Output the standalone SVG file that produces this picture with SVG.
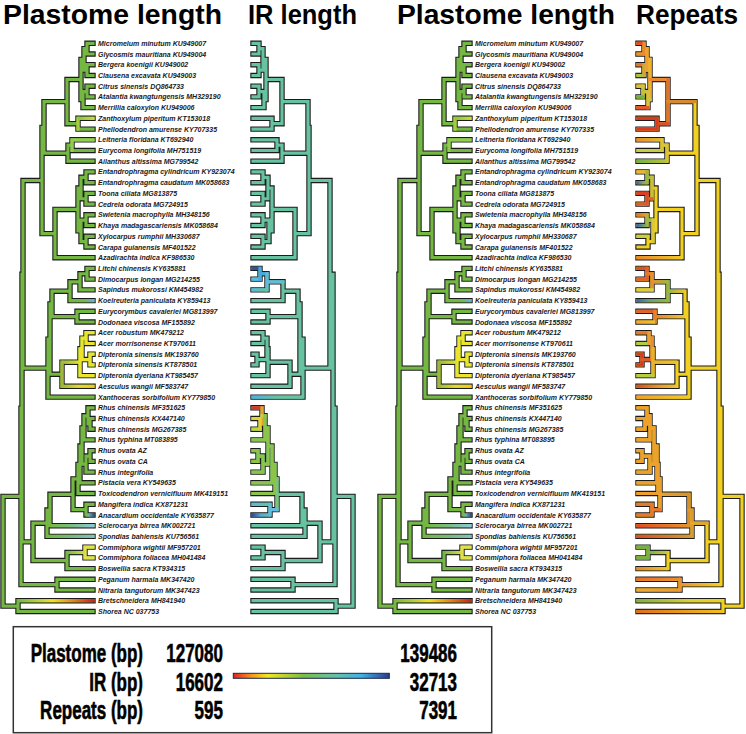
<svg xmlns="http://www.w3.org/2000/svg" xmlns:xlink="http://www.w3.org/1999/xlink" width="746" height="734" viewBox="0 0 746 734">
<style>
.ol{fill:none;stroke:#1c1c1c;stroke-width:5.4;stroke-linecap:square}
.fl{fill:none;stroke-width:3.2;stroke-linecap:square}
.ov{fill:none;stroke-width:3.2;stroke-linecap:square}
.lbl{font-family:"Liberation Sans",Arial,sans-serif;font-weight:bold;font-style:italic;font-size:7px;fill:#1a1a1a}
.ttl{font-family:"Liberation Sans",Arial,sans-serif;font-weight:bold;font-size:27px;fill:#000}
.lg{font-family:"Liberation Sans",Arial,sans-serif;font-weight:bold;font-size:25px;fill:#000;stroke:#000;stroke-width:0.6;text-anchor:end}
</style>
<defs>
<path id="tL" d="M3 496.4V606.1M21 408.1V584.65M18 600.7V611.5M22 274.3V541.9M57 579.3V590M23 180.5V368.1M33 523.2V560.55M42 127.4V233.6M44 101.6V153.2M67 79.5V123.7M81 59.4V99.6M84 48.65V70.1M87 43.3V54M87 64.7V75.5M83 91.55V107.6M87 86.2V96.9M78 118.3V129.1M68 145.15V161.2M72 139.8V150.5M55 209.45V257.7M78 188V230.9M81 177.3V198.75M86 171.9V182.7M86 193.4V204.1M81 220.15V241.65M86 214.8V225.5M86 236.3V247M48 339.1V397.1M50 303.9V374.25M52 291.2V316.65M70 281.8V300.6M80 273.75V289.9M87 268.4V279.1M77 311.3V322M62 362.2V386.3M80 348.8V375.6M82 338.1V359.55M86 332.7V343.5M90 354.2V364.9M47 510V536.4M50 494.3V525.7M73 478.95V509.65M78 464.4V493.5M80 446V482.8M82 427.9V464.1M84 415.8V439.9M88 407.8V423.85M90 418.5V429.2M86 456.05V472.1M90 450.7V461.4M86 504.3V515M67 552.5V568.6M85 547.1V557.9M3 496.4H21M3 606.1H18M21 408.1H22M21 584.65H57M22 274.3H23M22 541.9H33M23 180.5H42M23 368.1H48M42 127.4H44M42 233.6H55M44 101.6H67M44 153.2H68M67 79.5H81M67 123.7H78M81 59.4H84M81 99.6H83M84 48.65H87M84 70.1H87M87 43.3H93M87 54H93M87 64.7H93M87 75.5H93M83 91.55H87M87 86.2H93M87 96.9H93M83 107.6H93M78 118.3H93M78 129.1H93M68 145.15H72M72 139.8H93M72 150.5H93M68 161.2H93M55 209.45H78M55 257.7H93M78 188H81M78 230.9H81M81 177.3H86M81 198.75H86M81 220.15H86M81 241.65H86M86 171.9H93M86 182.7H93M86 193.4H93M86 204.1H93M86 214.8H93M86 225.5H93M86 236.3H93M86 247H93M48 339.1H50M48 397.1H93M50 303.9H52M50 374.25H62M52 291.2H70M52 316.65H77M70 281.8H80M70 300.6H93M80 273.75H87M80 289.9H93M87 268.4H93M87 279.1H93M77 311.3H93M77 322H93M62 362.2H80M62 386.3H93M80 348.8H82M80 375.6H93M82 338.1H86M82 359.55H90M86 332.7H93M86 343.5H93M90 354.2H93M90 364.9H93M33 523.2H47M33 560.55H67M47 510H50M47 536.4H93M50 494.3H73M50 525.7H93M73 478.95H78M73 509.65H86M78 464.4H80M78 493.5H93M80 446H82M80 482.8H93M82 427.9H84M82 464.1H86M84 415.8H88M84 439.9H93M88 407.8H93M88 423.85H90M90 418.5H93M90 429.2H93M86 456.05H90M86 472.1H93M90 450.7H93M90 461.4H93M86 504.3H93M86 515H93M67 552.5H85M67 568.6H93M85 547.1H93M85 557.9H93M57 579.3H93M57 590H93M18 600.7H93M18 611.5H93"/>
<path id="tI" d="M353 496.4V606.1M335 408.1V584.65M336 600.7V611.5M333 274.3V541.9M293 579.3V590M330 180.5V368.1M320 523.2V560.55M309 127.4V233.6M308 101.6V153.2M282 79.5V123.7M266 59.4V99.6M263 48.65V70.1M259 43.3V54M259 64.7V75.5M264 91.55V107.6M259 86.2V96.9M272 118.3V129.1M282 145.15V161.2M277 139.8V150.5M295 209.45V257.7M272 188V230.9M268 177.3V198.75M263 171.9V182.7M263 193.4V204.1M269 220.15V241.65M263 214.8V225.5M263 236.3V247M303 339.1V397.1M300 303.9V374.25M298 291.2V316.65M283 281.8V300.6M267 273.75V289.9M260 268.4V279.1M268 311.3V322M290 362.2V386.3M268 348.8V375.6M267 338.1V359.55M263 332.7V343.5M257 354.2V364.9M305 510V536.4M302 494.3V525.7M277 478.95V509.65M275 464.4V493.5M272 446V482.8M268 427.9V464.1M265 415.8V439.9M262 407.8V423.85M260 418.5V429.2M263 456.05V472.1M258 450.7V461.4M270 504.3V515M283 552.5V568.6M263 547.1V557.9M353 496.4H335M353 606.1H336M335 408.1H333M335 584.65H293M333 274.3H330M333 541.9H320M330 180.5H309M330 368.1H303M309 127.4H308M309 233.6H295M308 101.6H282M308 153.2H282M282 79.5H266M282 123.7H272M266 59.4H263M266 99.6H264M263 48.65H259M263 70.1H259M259 43.3H253M259 54H253M259 64.7H253M259 75.5H253M264 91.55H259M259 86.2H253M259 96.9H253M264 107.6H253M272 118.3H253M272 129.1H253M282 145.15H277M277 139.8H253M277 150.5H253M282 161.2H253M295 209.45H272M295 257.7H253M272 188H268M272 230.9H269M268 177.3H263M268 198.75H263M269 220.15H263M269 241.65H263M263 171.9H253M263 182.7H253M263 193.4H253M263 204.1H253M263 214.8H253M263 225.5H253M263 236.3H253M263 247H253M303 339.1H300M303 397.1H253M300 303.9H298M300 374.25H290M298 291.2H283M298 316.65H268M283 281.8H267M283 300.6H253M267 273.75H260M267 289.9H253M260 268.4H253M260 279.1H253M268 311.3H253M268 322H253M290 362.2H268M290 386.3H253M268 348.8H267M268 375.6H253M267 338.1H263M267 359.55H257M263 332.7H253M263 343.5H253M257 354.2H253M257 364.9H253M320 523.2H305M320 560.55H283M305 510H302M305 536.4H253M302 494.3H277M302 525.7H253M277 478.95H275M277 509.65H270M275 464.4H272M275 493.5H253M272 446H268M272 482.8H253M268 427.9H265M268 464.1H263M265 415.8H262M265 439.9H253M262 407.8H253M262 423.85H260M260 418.5H253M260 429.2H253M263 456.05H258M263 472.1H253M258 450.7H253M258 461.4H253M270 504.3H253M270 515H253M283 552.5H263M283 568.6H253M263 547.1H253M263 557.9H253M293 579.3H253M293 590H253M336 600.7H253M336 611.5H253"/>
<path id="tR" d="M742 496.4V606.1M721 408.1V584.65M723 600.7V611.5M719 274.3V541.9M680 579.3V590M718 180.5V368.1M707 523.2V560.55M697 127.4V233.6M695 101.6V153.2M668 79.5V123.7M650 59.4V99.6M647 48.65V70.1M644 43.3V54M644 64.7V75.5M648 91.55V107.6M643 86.2V96.9M657 118.3V129.1M667 145.15V161.2M662 139.8V150.5M682 209.45V257.7M656 188V230.9M652 177.3V198.75M647 171.9V182.7M647 193.4V204.1M653 220.15V241.65M647 214.8V225.5M648 236.3V247M689 339.1V397.1M687 303.9V374.25M685 291.2V316.65M668 281.8V300.6M652 273.75V289.9M647 268.4V279.1M655 311.3V322M677 362.2V386.3M653 348.8V375.6M652 338.1V359.55M649 332.7V343.5M642 354.2V364.9M692 510V536.4M689 494.3V525.7M660 478.95V509.65M658 464.4V493.5M657 446V482.8M654 427.9V464.1M650 415.8V439.9M647 407.8V423.85M645 418.5V429.2M650 456.05V472.1M642 450.7V461.4M652 504.3V515M668 552.5V568.6M648 547.1V557.9M742 496.4H721M742 606.1H723M721 408.1H719M721 584.65H680M719 274.3H718M719 541.9H707M718 180.5H697M718 368.1H689M697 127.4H695M697 233.6H682M695 101.6H668M695 153.2H667M668 79.5H650M668 123.7H657M650 59.4H647M650 99.6H648M647 48.65H644M647 70.1H644M644 43.3H638M644 54H638M644 64.7H638M644 75.5H638M648 91.55H643M643 86.2H638M643 96.9H638M648 107.6H638M657 118.3H638M657 129.1H638M667 145.15H662M662 139.8H638M662 150.5H638M667 161.2H638M682 209.45H656M682 257.7H638M656 188H652M656 230.9H653M652 177.3H647M652 198.75H647M653 220.15H647M653 241.65H648M647 171.9H638M647 182.7H638M647 193.4H638M647 204.1H638M647 214.8H638M647 225.5H638M648 236.3H638M648 247H638M689 339.1H687M689 397.1H638M687 303.9H685M687 374.25H677M685 291.2H668M685 316.65H655M668 281.8H652M668 300.6H638M652 273.75H647M652 289.9H638M647 268.4H638M647 279.1H638M655 311.3H638M655 322H638M677 362.2H653M677 386.3H638M653 348.8H652M653 375.6H638M652 338.1H649M652 359.55H642M649 332.7H638M649 343.5H638M642 354.2H638M642 364.9H638M707 523.2H692M707 560.55H668M692 510H689M692 536.4H638M689 494.3H660M689 525.7H638M660 478.95H658M660 509.65H652M658 464.4H657M658 493.5H638M657 446H654M657 482.8H638M654 427.9H650M654 464.1H650M650 415.8H647M650 439.9H638M647 407.8H638M647 423.85H645M645 418.5H638M645 429.2H638M650 456.05H642M650 472.1H638M642 450.7H638M642 461.4H638M652 504.3H638M652 515H638M668 552.5H648M668 568.6H638M648 547.1H638M648 557.9H638M680 579.3H638M680 590H638M723 600.7H638M723 611.5H638"/>
<linearGradient id="gL_za"><stop offset="0" stop-color="#8cc444"/><stop offset="1" stop-color="#d2da3a"/></linearGradient>
<linearGradient id="gL_koel"><stop offset="0" stop-color="#74b843"/><stop offset=".55" stop-color="#74b843"/><stop offset="1" stop-color="#68ace8"/></linearGradient>
<linearGradient id="gL_acerH"><stop offset="0" stop-color="#a2b63c"/><stop offset="1" stop-color="#e8e02c"/></linearGradient>
<linearGradient id="gL_aes"><stop offset="0" stop-color="#a2b63c"/><stop offset=".5" stop-color="#e6d82a"/><stop offset="1" stop-color="#f4c814"/></linearGradient>
<linearGradient id="gL_anac"><stop offset="0" stop-color="#74b843"/><stop offset=".35" stop-color="#6cb0b8"/><stop offset="1" stop-color="#26388f"/></linearGradient>
<linearGradient id="gL_scl"><stop offset="0" stop-color="#74b843"/><stop offset=".5" stop-color="#7cbc88"/><stop offset="1" stop-color="#8ccbe0"/></linearGradient>
<linearGradient id="gL_spo"><stop offset="0" stop-color="#74b843"/><stop offset=".5" stop-color="#78b880"/><stop offset="1" stop-color="#80c0cc"/></linearGradient>
<linearGradient id="gL_bre"><stop offset="0" stop-color="#74b843"/><stop offset=".3" stop-color="#c4d43a"/><stop offset=".45" stop-color="#f2e21e"/><stop offset=".7" stop-color="#ea8a1e"/><stop offset="1" stop-color="#c81e1e"/></linearGradient>
<linearGradient id="gL_comH"><stop offset="0" stop-color="#74b843"/><stop offset="1" stop-color="#d8dc48"/></linearGradient>
<linearGradient id="gI_sap"><stop offset="0" stop-color="#52bce0"/><stop offset="1" stop-color="#66c2a0"/></linearGradient>
<linearGradient id="gI_xan"><stop offset="0" stop-color="#4cb0e6"/><stop offset=".5" stop-color="#66c2a0"/><stop offset="1" stop-color="#66c2a0"/></linearGradient>
<linearGradient id="gI_man"><stop offset="0" stop-color="#5cb8e6"/><stop offset="1" stop-color="#66c2a0"/></linearGradient>
<linearGradient id="gI_ana"><stop offset="0" stop-color="#2c3e98"/><stop offset=".5" stop-color="#50a8d8"/><stop offset="1" stop-color="#66c0c0"/></linearGradient>
<linearGradient id="gR_leit"><stop offset="0" stop-color="#f08c2c"/><stop offset="1" stop-color="#e0c038"/></linearGradient>
<linearGradient id="gR_ail"><stop offset="0" stop-color="#6eb246"/><stop offset="1" stop-color="#b8c640"/></linearGradient>
<linearGradient id="gR_ent"><stop offset="0" stop-color="#3060b4"/><stop offset=".6" stop-color="#7aa86a"/><stop offset="1" stop-color="#98b848"/></linearGradient>
<linearGradient id="gR_swi"><stop offset="0" stop-color="#e8702c"/><stop offset="1" stop-color="#e8a030"/></linearGradient>
<linearGradient id="gR_kha"><stop offset="0" stop-color="#3464b8"/><stop offset="1" stop-color="#8cb44c"/></linearGradient>
<linearGradient id="gR_aza"><stop offset="0" stop-color="#e8862e"/><stop offset="1" stop-color="#f0c828"/></linearGradient>
<linearGradient id="gR_ldsH"><stop offset="0" stop-color="#e8902e"/><stop offset="1" stop-color="#98b848"/></linearGradient>
<linearGradient id="gR_koel"><stop offset="0" stop-color="#2f66c0"/><stop offset=".4" stop-color="#68a078"/><stop offset="1" stop-color="#8cb848"/></linearGradient>
<linearGradient id="gR_sapiH"><stop offset="0" stop-color="#90b848"/><stop offset="1" stop-color="#ecc830"/></linearGradient>
<linearGradient id="gR_dod"><stop offset="0" stop-color="#f0a632"/><stop offset="1" stop-color="#f0c030"/></linearGradient>
<linearGradient id="gR_dodH"><stop offset="0" stop-color="#e8802e"/><stop offset="1" stop-color="#f0c830"/></linearGradient>
<linearGradient id="gR_acerH"><stop offset="0" stop-color="#ecb030"/><stop offset="1" stop-color="#f0c428"/></linearGradient>
<linearGradient id="gR_aes"><stop offset="0" stop-color="#d84a28"/><stop offset=".6" stop-color="#ec9a30"/><stop offset="1" stop-color="#f0c428"/></linearGradient>
<linearGradient id="gR_xan"><stop offset="0" stop-color="#f0a030"/><stop offset="1" stop-color="#f2cc20"/></linearGradient>
<linearGradient id="gR_anacH"><stop offset="0" stop-color="#eea02c"/><stop offset="1" stop-color="#d8902e"/></linearGradient>
<linearGradient id="gR_scl"><stop offset="0" stop-color="#e04a26"/><stop offset="1" stop-color="#e89030"/></linearGradient>
<linearGradient id="gR_spo"><stop offset="0" stop-color="#d8502a"/><stop offset="1" stop-color="#d89a34"/></linearGradient>
<linearGradient id="gR_cmH"><stop offset="0" stop-color="#72b246"/><stop offset="1" stop-color="#d0c83a"/></linearGradient>
<linearGradient id="gR_bos"><stop offset="0" stop-color="#e8862e"/><stop offset="1" stop-color="#f0c828"/></linearGradient>
<linearGradient id="gR_peg"><stop offset="0" stop-color="#e6702c"/><stop offset="1" stop-color="#ec9030"/></linearGradient>
<linearGradient id="gR_nit"><stop offset="0" stop-color="#f0a834"/><stop offset="1" stop-color="#ec9a30"/></linearGradient>
<linearGradient id="gR_nitH"><stop offset="0" stop-color="#ec9030"/><stop offset="1" stop-color="#f2d020"/></linearGradient>
<linearGradient id="gR_bre"><stop offset="0" stop-color="#78b244"/><stop offset=".6" stop-color="#d8d038"/><stop offset="1" stop-color="#f2d020"/></linearGradient>
<linearGradient id="gR_sho"><stop offset="0" stop-color="#e0701e"/><stop offset="1" stop-color="#f0c020"/></linearGradient>
<linearGradient id="gLeg"><stop offset="0" stop-color="#e3231f"/><stop offset=".12" stop-color="#f39a1e"/><stop offset=".22" stop-color="#f4e61c"/><stop offset=".45" stop-color="#7bbd46"/><stop offset=".65" stop-color="#66c2a5"/><stop offset=".82" stop-color="#3fb3e6"/><stop offset="1" stop-color="#2b3990"/></linearGradient>
</defs>
<rect width="746" height="734" fill="#fff"/>
<g id="titles">
<text class="ttl" x="3" y="24" textLength="219" lengthAdjust="spacingAndGlyphs">Plastome length</text>
<text class="ttl" x="248" y="24" textLength="109" lengthAdjust="spacingAndGlyphs">IR length</text>
<text class="ttl" x="397" y="24" textLength="218" lengthAdjust="spacingAndGlyphs">Plastome length</text>
<text class="ttl" x="636" y="24" textLength="102" lengthAdjust="spacingAndGlyphs">Repeats</text>
</g>
<g id="panel-plastome">
<g id="connectors-plastome">
<use href="#tL" class="ol"/>
<use href="#tL" class="fl" stroke="#74b843"/>
<path class="ov" stroke="#a8cc40" d="M78 118.3V129.1"/>
<path class="ov" stroke="#92cc50" d="M72 139.8V150.5M72 139.8H93"/>
<path class="ov" stroke="#ece42c" d="M80 348.8V375.6M82 338.1V359.55M86 332.7V343.5M90 354.2V364.9M80 348.8H82M82 338.1H86M82 359.55H90M86 332.7H93M86 343.5H93M90 354.2H93M90 364.9H93M80 375.6H93"/>
<path class="ov" stroke="#a2b63c" d="M62 362.2V386.3"/>
<path class="ov" stroke="#e4e04c" d="M85 547.1V557.9M85 547.1H93M85 557.9H93"/>
<rect x="78" y="116.7" width="16.6" height="3.2" fill="url(#gL_za)"/>
<rect x="70" y="299" width="24.6" height="3.2" fill="url(#gL_koel)"/>
<rect x="62" y="360.6" width="18" height="3.2" fill="url(#gL_acerH)"/>
<rect x="62" y="384.7" width="32.6" height="3.2" fill="url(#gL_aes)"/>
<rect x="86" y="513.4" width="8.6" height="3.2" fill="url(#gL_anac)"/>
<rect x="50" y="524.1" width="44.6" height="3.2" fill="url(#gL_scl)"/>
<rect x="47" y="534.8" width="47.6" height="3.2" fill="url(#gL_spo)"/>
<rect x="67" y="550.9" width="18" height="3.2" fill="url(#gL_comH)"/>
<rect x="18" y="599.1" width="76.6" height="3.2" fill="url(#gL_bre)"/>
</g>
<g id="taxa">
<text class="lbl" x="98" y="45.8">Micromelum minutum KU949007</text>
<text class="lbl" x="98" y="56.5">Glycosmis mauritiana KU949004</text>
<text class="lbl" x="98" y="67.2">Bergera koenigii KU949002</text>
<text class="lbl" x="98" y="78">Clausena excavata KU949003</text>
<text class="lbl" x="98" y="88.7">Citrus sinensis DQ864733</text>
<text class="lbl" x="98" y="99.4">Atalantia kwangtungensis MH329190</text>
<text class="lbl" x="98" y="110.1">Merrillia caloxylon KU949006</text>
<text class="lbl" x="98" y="120.8">Zanthoxylum piperitum KT153018</text>
<text class="lbl" x="98" y="131.6">Phellodendron amurense KY707335</text>
<text class="lbl" x="98" y="142.3">Leitneria floridana KT692940</text>
<text class="lbl" x="98" y="153">Eurycoma longifolia MH751519</text>
<text class="lbl" x="98" y="163.7">Ailanthus altissima MG799542</text>
<text class="lbl" x="98" y="174.4">Entandrophragma cylindricum KY923074</text>
<text class="lbl" x="98" y="185.2">Entandrophragma caudatum MK058683</text>
<text class="lbl" x="98" y="195.9">Toona ciliata MG813875</text>
<text class="lbl" x="98" y="206.6">Cedrela odorata MG724915</text>
<text class="lbl" x="98" y="217.3">Swietenia macrophylla MH348156</text>
<text class="lbl" x="98" y="228">Khaya madagascariensis MK058684</text>
<text class="lbl" x="98" y="238.8">Xylocarpus rumphii MH330687</text>
<text class="lbl" x="98" y="249.5">Carapa guianensis MF401522</text>
<text class="lbl" x="98" y="260.2">Azadirachta indica KF986530</text>
<text class="lbl" x="98" y="270.9">Litchi chinensis KY635881</text>
<text class="lbl" x="98" y="281.6">Dimocarpus longan MG214255</text>
<text class="lbl" x="98" y="292.4">Sapindus mukorossi KM454982</text>
<text class="lbl" x="98" y="303.1">Koelreuteria paniculata KY859413</text>
<text class="lbl" x="98" y="313.8">Eurycorymbus cavaleriei MG813997</text>
<text class="lbl" x="98" y="324.5">Dodonaea viscosa MF155892</text>
<text class="lbl" x="98" y="335.2">Acer robustum MK479212</text>
<text class="lbl" x="98" y="346">Acer morrisonense KT970611</text>
<text class="lbl" x="98" y="356.7">Dipteronia sinensis MK193760</text>
<text class="lbl" x="98" y="367.4">Dipteronia sinensis KT878501</text>
<text class="lbl" x="98" y="378.1">Dipteronia dyeriana KT985457</text>
<text class="lbl" x="98" y="388.8">Aesculus wangii MF583747</text>
<text class="lbl" x="98" y="399.6">Xanthoceras sorbifolium KY779850</text>
<text class="lbl" x="98" y="410.3">Rhus chinensis MF351625</text>
<text class="lbl" x="98" y="421">Rhus chinensis KX447140</text>
<text class="lbl" x="98" y="431.7">Rhus chinensis MG267385</text>
<text class="lbl" x="98" y="442.4">Rhus typhina MT083895</text>
<text class="lbl" x="98" y="453.2">Rhus ovata AZ</text>
<text class="lbl" x="98" y="463.9">Rhus ovata CA</text>
<text class="lbl" x="98" y="474.6">Rhus integrifolia</text>
<text class="lbl" x="98" y="485.3">Pistacia vera KY549635</text>
<text class="lbl" x="98" y="496">Toxicodendron vernicifluum MK419151</text>
<text class="lbl" x="98" y="506.8">Mangifera indica KX871231</text>
<text class="lbl" x="98" y="517.5">Anacardium occidentale KY635877</text>
<text class="lbl" x="98" y="528.2">Sclerocarya birrea MK002721</text>
<text class="lbl" x="98" y="538.9">Spondias bahiensis KU756561</text>
<text class="lbl" x="98" y="549.6">Commiphora wightii MF957201</text>
<text class="lbl" x="98" y="560.4">Commiphora foliacea MH041484</text>
<text class="lbl" x="98" y="571.1">Boswellia sacra KT934315</text>
<text class="lbl" x="98" y="581.8">Peganum harmala MK347420</text>
<text class="lbl" x="98" y="592.5">Nitraria tangutorum MK347423</text>
<text class="lbl" x="98" y="603.2">Bretschneidera MH841940</text>
<text class="lbl" x="98" y="614">Shorea NC 037753</text>
</g>
</g>
<use id="panel-plastome-right" href="#panel-plastome" x="377"/>
<g id="panel-ir">
<use href="#tI" class="ol"/>
<use href="#tI" class="fl" stroke="#66c2a0"/>
<path class="ov" stroke="#34509e" d="M260 268.4H253"/>
<path class="ov" stroke="#56bce8" d="M260 279.1H253"/>
<path class="ov" stroke="#48a8e0" d="M260 268.4V279.1M267 273.75H260"/>
<path class="ov" stroke="#60bcd8" d="M267 273.75V289.9M283 281.8H267"/>
<path class="ov" stroke="#d43a26" d="M262 407.8H253"/>
<path class="ov" stroke="#e8a030" d="M262 407.8V423.85"/>
<path class="ov" stroke="#e8d030" d="M260 418.5H253M260 418.5V429.2"/>
<path class="ov" stroke="#c8d43c" d="M260 429.2H253M265 415.8H262"/>
<path class="ov" stroke="#8cc44a" d="M265 415.8V439.9M265 439.9H253M268 427.9V464.1M268 427.9H265M268 464.1H263M263 456.05V472.1M263 456.05H258M258 450.7V461.4M258 450.7H253M258 461.4H253M263 472.1H253M272 446V482.8M272 446H268M272 482.8H253M275 464.4V493.5M275 464.4H272M275 493.5H253M277 478.95H275"/>
<path class="ov" stroke="#7cc47a" d="M277 478.95V509.65"/>
<path class="ov" stroke="#64bce0" d="M270 504.3V515M277 509.65H270"/>
<rect x="251.4" y="288.3" width="15.6" height="3.2" fill="url(#gI_sap)"/>
<rect x="251.4" y="395.5" width="51.6" height="3.2" fill="url(#gI_xan)"/>
<rect x="251.4" y="502.7" width="18.6" height="3.2" fill="url(#gI_man)"/>
<rect x="251.4" y="513.4" width="18.6" height="3.2" fill="url(#gI_ana)"/>
</g>
<g id="panel-repeats">
<use href="#tR" class="ol"/>
<use href="#tR" class="fl" stroke="#f2d020"/>
<path class="ov" stroke="#e24a2a" d="M644 43.3H638"/>
<path class="ov" stroke="#f08c2c" d="M644 54H638"/>
<path class="ov" stroke="#e8702e" d="M644 64.7H638"/>
<path class="ov" stroke="#a8c444" d="M644 75.5H638"/>
<path class="ov" stroke="#ee8a2e" d="M644 43.3V54M647 48.65H644"/>
<path class="ov" stroke="#d0a83a" d="M644 64.7V75.5M647 70.1H644"/>
<path class="ov" stroke="#f0a030" d="M647 48.65V70.1M650 59.4H647"/>
<path class="ov" stroke="#f0b030" d="M650 59.4V99.6"/>
<path class="ov" stroke="#d8c040" d="M650 99.6H648M648 91.55V107.6M648 91.55H643"/>
<path class="ov" stroke="#b8c444" d="M643 86.2V96.9"/>
<path class="ov" stroke="#e0c03a" d="M643 86.2H638"/>
<path class="ov" stroke="#6eb246" d="M643 96.9H638"/>
<path class="ov" stroke="#e4582c" d="M648 107.6H638"/>
<path class="ov" stroke="#ec8a30" d="M668 79.5H650"/>
<path class="ov" stroke="#e4702e" d="M668 79.5V123.7"/>
<path class="ov" stroke="#dc5028" d="M668 123.7H657"/>
<path class="ov" stroke="#d83a22" d="M657 118.3V129.1M657 118.3H638M657 129.1H638"/>
<path class="ov" stroke="#d88a30" d="M695 101.6H668"/>
<path class="ov" stroke="#c8d040" d="M662 150.5H638M648 236.3H638"/>
<path class="ov" stroke="#d8c43a" d="M662 139.8V150.5M667 145.15H662M667 145.15V161.2"/>
<path class="ov" stroke="#eeb630" d="M647 171.9H638"/>
<path class="ov" stroke="#98b848" d="M647 171.9V182.7M652 177.3H647"/>
<path class="ov" stroke="#c8c03c" d="M652 177.3V198.75"/>
<path class="ov" stroke="#e06030" d="M652 198.75H647"/>
<path class="ov" stroke="#dc4c2a" d="M647 193.4V204.1"/>
<path class="ov" stroke="#d84026" d="M647 193.4H638"/>
<path class="ov" stroke="#e05a2c" d="M647 204.1H638"/>
<path class="ov" stroke="#a0b848" d="M647 214.8V225.5M653 220.15H647"/>
<path class="ov" stroke="#d8c83a" d="M653 220.15V241.65"/>
<path class="ov" stroke="#e0502a" d="M647 268.4H638"/>
<path class="ov" stroke="#e4602c" d="M647 279.1H638M647 268.4V279.1"/>
<path class="ov" stroke="#e87a2e" d="M652 273.75H647"/>
<path class="ov" stroke="#e8902e" d="M652 273.75V289.9"/>
<path class="ov" stroke="#dcd040" d="M652 289.9H638"/>
<path class="ov" stroke="#90b848" d="M668 281.8V300.6"/>
<path class="ov" stroke="#e0602e" d="M655 311.3H638"/>
<path class="ov" stroke="#e8802e" d="M655 311.3V322"/>
<path class="ov" stroke="#e8782e" d="M649 332.7H638"/>
<path class="ov" stroke="#b4cc44" d="M649 343.5H638"/>
<path class="ov" stroke="#e8a034" d="M649 332.7V343.5M652 338.1H649"/>
<path class="ov" stroke="#d83a24" d="M642 354.2V364.9M642 354.2H638M642 364.9H638"/>
<path class="ov" stroke="#dc5a2a" d="M652 359.55H642"/>
<path class="ov" stroke="#e89030" d="M652 338.1V359.55M653 348.8H652"/>
<path class="ov" stroke="#ecb030" d="M653 348.8V375.6"/>
<path class="ov" stroke="#b8cc44" d="M653 375.6H638"/>
<path class="ov" stroke="#eea02c" d="M658 464.4V493.5M657 446V482.8M654 427.9V464.1M650 415.8V439.9M647 407.8V423.85M645 418.5V429.2M650 456.05V472.1M642 450.7V461.4M660 478.95V509.65M660 478.95H658M658 464.4H657M657 446H654M654 427.9H650M654 464.1H650M650 415.8H647M650 456.05H642M658 493.5H638M657 482.8H638M650 439.9H638M647 407.8H638M647 423.85H645M645 418.5H638M645 429.2H638M650 472.1H638M642 450.7H638M642 461.4H638"/>
<path class="ov" stroke="#e8782c" d="M660 509.65H652M652 504.3V515M652 504.3H638M652 515H638"/>
<path class="ov" stroke="#d8902e" d="M689 494.3V525.7"/>
<path class="ov" stroke="#dc9a30" d="M692 510V536.4M692 510H689"/>
<path class="ov" stroke="#e0a830" d="M707 523.2H692"/>
<path class="ov" stroke="#72b246" d="M648 547.1V557.9M648 547.1H638M648 557.9H638"/>
<path class="ov" stroke="#ec9030" d="M680 579.3V590"/>
<rect x="636.4" y="138.2" width="25.6" height="3.2" fill="url(#gR_leit)"/>
<rect x="636.4" y="159.6" width="30.6" height="3.2" fill="url(#gR_ail)"/>
<rect x="636.4" y="181.1" width="10.6" height="3.2" fill="url(#gR_ent)"/>
<rect x="636.4" y="213.2" width="10.6" height="3.2" fill="url(#gR_swi)"/>
<rect x="636.4" y="223.9" width="10.6" height="3.2" fill="url(#gR_kha)"/>
<rect x="636.4" y="256.1" width="45.6" height="3.2" fill="url(#gR_aza)"/>
<rect x="652" y="280.2" width="16" height="3.2" fill="url(#gR_ldsH)"/>
<rect x="636.4" y="299" width="31.6" height="3.2" fill="url(#gR_koel)"/>
<rect x="668" y="289.6" width="17" height="3.2" fill="url(#gR_sapiH)"/>
<rect x="636.4" y="320.4" width="18.6" height="3.2" fill="url(#gR_dod)"/>
<rect x="655" y="315.05" width="30" height="3.2" fill="url(#gR_dodH)"/>
<rect x="653" y="360.6" width="24" height="3.2" fill="url(#gR_acerH)"/>
<rect x="636.4" y="384.7" width="40.6" height="3.2" fill="url(#gR_aes)"/>
<rect x="636.4" y="395.5" width="52.6" height="3.2" fill="url(#gR_xan)"/>
<rect x="660" y="492.7" width="29" height="3.2" fill="url(#gR_anacH)"/>
<rect x="636.4" y="524.1" width="52.6" height="3.2" fill="url(#gR_scl)"/>
<rect x="636.4" y="534.8" width="55.6" height="3.2" fill="url(#gR_spo)"/>
<rect x="648" y="550.9" width="20" height="3.2" fill="url(#gR_cmH)"/>
<rect x="636.4" y="567" width="31.6" height="3.2" fill="url(#gR_bos)"/>
<rect x="636.4" y="577.7" width="43.6" height="3.2" fill="url(#gR_peg)"/>
<rect x="636.4" y="588.4" width="43.6" height="3.2" fill="url(#gR_nit)"/>
<rect x="680" y="583.05" width="41" height="3.2" fill="url(#gR_nitH)"/>
<rect x="636.4" y="599.1" width="86.6" height="3.2" fill="url(#gR_bre)"/>
<rect x="636.4" y="609.9" width="86.6" height="3.2" fill="url(#gR_sho)"/>
</g>
<g id="legend">
<rect x="13.3" y="626.7" width="478.4" height="106" fill="#fff" stroke="#333" stroke-width="1.5"/>
<g transform="scale(0.68,1)">
<text class="lg" x="210.3" y="662.5">Plastome (bp)</text>
<text class="lg" x="210.3" y="691">IR (bp)</text>
<text class="lg" x="210.3" y="719.5">Repeats (bp)</text>
<text class="lg" x="327.9" y="662.5">127080</text>
<text class="lg" x="327.9" y="691">16602</text>
<text class="lg" x="327.9" y="719.5">595</text>
<text class="lg" x="672.1" y="662.5">139486</text>
<text class="lg" x="672.1" y="691">32713</text>
<text class="lg" x="672.1" y="719.5">7391</text>
</g>
<rect x="233.3" y="673.3" width="156" height="5" fill="url(#gLeg)" stroke="#1c2a4a" stroke-width="1"/>
</g>
</svg>
